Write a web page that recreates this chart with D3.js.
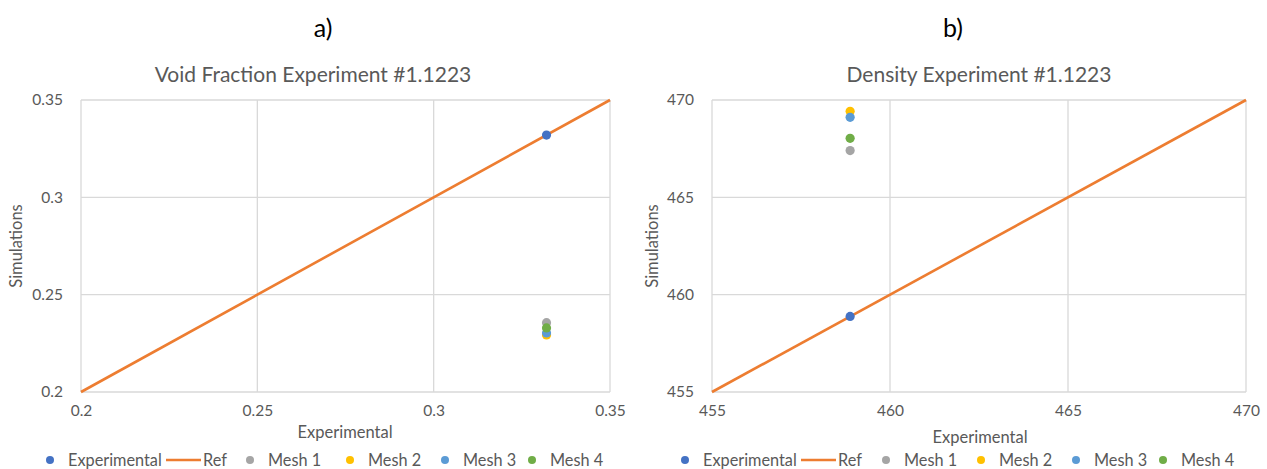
<!DOCTYPE html>
<html>
<head>
<meta charset="utf-8">
<script src="https://cdn.jsdelivr.net/npm/d3@7"></script>
<style>
  body { margin: 0; background: #fff; }
  svg text { font-family: Lato, "Open Sans", sans-serif; fill: #595959; }
  .tick text { font-size: 15.5px; }
  .panelLabel { font-size: 25px; fill: #000 !important; }
  .title { font-size: 21px; }
  .axisTitle { font-size: 16.5px; }
  .legend { font-size: 16.3px; }
</style>
</head>
<body>
<div id="chart"></div>
<script>
// series names and colours (legend order)
const seriesNames = ["Experimental", "Ref", "Mesh 1", "Mesh 2", "Mesh 3", "Mesh 4"];
const seriesColors = ["#4472C4", "#ED7D31", "#A5A5A5", "#FFC000", "#5B9BD5", "#70AD47"];

// panel a) void fraction
const voidTicks = [0.2, 0.25, 0.3, 0.35];
const voidExperimental = [[0.332, 0.332]];
const voidRef = [[0.2, 0.2], [0.35, 0.35]];
const voidMesh1 = [[0.332, 0.2356]];
const voidMesh2 = [[0.332, 0.2293]];
const voidMesh3 = [[0.332, 0.2303]];
const voidMesh4 = [[0.332, 0.2329]];

// panel b) density
const densTicks = [455, 460, 465, 470];
const densExperimental = [[458.88, 458.88]];
const densRef = [[455, 455], [470, 470]];
const densMesh1 = [[458.88, 467.4]];
const densMesh2 = [[458.88, 469.42]];
const densMesh3 = [[458.88, 469.11]];
const densMesh4 = [[458.88, 468.03]];

const svg = d3.select("#chart")
    .append("svg")
    .attr("width", 1267)
    .attr("height", 469);

function drawPanel(opt) {
    let x = d3.scaleLinear()
        .domain(d3.extent(opt.ticks))
        .range([opt.left, opt.right]);
    let y = d3.scaleLinear()
        .domain(d3.extent(opt.ticks))
        .range([opt.bottom, opt.top]);
    let g = svg.append("g");

    g.append("text")
        .attr("class", "panelLabel")
        .attr("x", opt.labelX)
        .attr("y", 37)
        .attr("text-anchor", "middle")
        .text(opt.label);

    g.append("text")
        .attr("class", "title")
        .attr("x", opt.titleX)
        .attr("y", 82)
        .attr("text-anchor", "middle")
        .text(opt.title);

    // gridlines
    g.selectAll(".gx")
        .data(opt.ticks)
        .join("line")
        .attr("x1", d => x(d)).attr("x2", d => x(d))
        .attr("y1", opt.top).attr("y2", opt.bottom)
        .attr("stroke", "#D9D9D9")
        .attr("stroke-width", 1.3);
    g.selectAll(".gy")
        .data(opt.ticks)
        .join("line")
        .attr("x1", opt.left).attr("x2", opt.right)
        .attr("y1", d => y(d)).attr("y2", d => y(d))
        .attr("stroke", "#D9D9D9")
        .attr("stroke-width", 1.3);

    // axes (labels only)
    let xAxis = g.append("g")
        .attr("transform", `translate(0, ${opt.bottom + 7})`)
        .call(d3.axisBottom(x).tickValues(opt.ticks).tickSize(0).tickFormat(d => d));
    let yAxis = g.append("g")
        .attr("transform", `translate(${opt.left - 15}, 0)`)
        .call(d3.axisLeft(y).tickValues(opt.ticks).tickSize(0).tickFormat(d => d));
    xAxis.select(".domain").remove();
    yAxis.select(".domain").remove();
    xAxis.selectAll("text").attr("dy", "0.9em");

    g.append("text")
        .attr("class", "axisTitle")
        .attr("x", opt.xTitleX)
        .attr("y", opt.xTitleY)
        .attr("text-anchor", "middle")
        .text("Experimental");
    g.append("text")
        .attr("class", "axisTitle")
        .attr("transform", `translate(${opt.yTitleX}, ${(opt.top + opt.bottom) / 2}) rotate(-90)`)
        .attr("text-anchor", "middle")
        .text("Simulations");

    // reference line
    g.append("path")
        .datum(opt.series[1])
        .attr("d", d3.line().x(d => x(d[0])).y(d => y(d[1])))
        .attr("fill", "none")
        .attr("stroke", seriesColors[1])
        .attr("stroke-width", 2.6);

    // scatter series
    [0, 2, 3, 4, 5].forEach(i => {
        g.selectAll(".s" + i)
            .data(opt.series[i])
            .join("circle")
            .attr("class", "s" + i)
            .attr("cx", d => x(d[0]))
            .attr("cy", d => y(d[1]))
            .attr("r", 4.6)
            .attr("fill", seriesColors[i]);
    });

    // legend
    let leg = g.selectAll(".legItem")
        .data(seriesNames)
        .join("g")
        .attr("class", "legItem")
        .attr("transform", (d, i) => `translate(${opt.legendX[i]}, 460)`);
    leg.each(function(d, i) {
        let item = d3.select(this);
        if (i == 1) {
            item.append("line")
                .attr("x1", -37).attr("x2", -2)
                .attr("stroke", seriesColors[i])
                .attr("stroke-width", 2.6);
        } else {
            item.append("circle")
                .attr("cx", -18)
                .attr("r", 4)
                .attr("fill", seriesColors[i]);
        }
        item.append("text")
            .attr("class", "legend")
            .attr("x", 0)
            .attr("dy", "0.35em")
            .text(d);
    });
}

drawPanel({
    label: "a)", labelX: 323,
    title: "Void Fraction Experiment #1.1223", titleX: 313,
    ticks: voidTicks,
    left: 81, right: 610, top: 100, bottom: 392,
    xTitleX: 345, xTitleY: 438, yTitleX: 22,
    legendX: [68, 203, 268, 368, 463, 550],
    series: [voidExperimental, voidRef, voidMesh1, voidMesh2, voidMesh3, voidMesh4]
});

drawPanel({
    label: "b)", labelX: 953,
    title: "Density Experiment #1.1223", titleX: 979,
    ticks: densTicks,
    left: 712, right: 1246, top: 100, bottom: 392,
    xTitleX: 980, xTitleY: 443, yTitleX: 658,
    legendX: [703, 838, 904, 999, 1094, 1181],
    series: [densExperimental, densRef, densMesh1, densMesh2, densMesh3, densMesh4]
});
</script>
</body>
</html>
